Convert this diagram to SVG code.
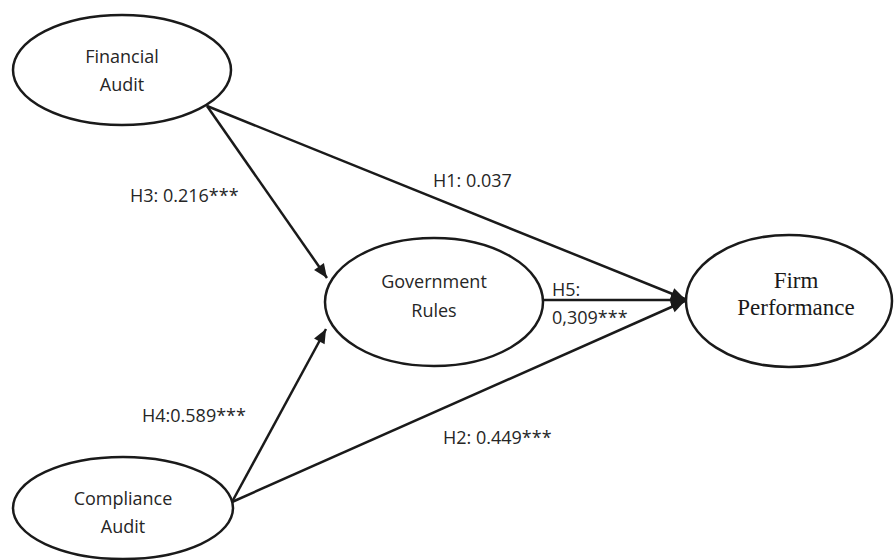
<svg xmlns="http://www.w3.org/2000/svg" width="894" height="560" viewBox="0 0 894 560">
<style>
  .node ellipse { fill: #fff; stroke: #1a1a1a; stroke-width: 2.5; }
  .t { font-family: "Open Sans", "Liberation Sans", sans-serif; font-size: 18px; fill: #262626; }
  .serif { font-family: "Liberation Serif", "Times New Roman", serif; font-size: 23px; fill: #1a1a1a; }
  .edge { stroke: #1a1a1a; stroke-width: 2.5; fill: none; marker-end: url(#arrow); }
</style>
<defs>
  <marker id="arrow" markerUnits="userSpaceOnUse" markerWidth="16" markerHeight="14" refX="15" refY="7" orient="auto">
    <path d="M1,1 L15,7 L1,13 z" fill="#1a1a1a"/>
  </marker>
</defs>
<rect width="894" height="560" fill="#fff"/>
<g id="connectors">
  <line class="edge" x1="207" y1="106" x2="327" y2="278"/>
  <line class="edge" x1="207" y1="106" x2="685" y2="299"/>
  <line class="edge" x1="232" y1="502" x2="326" y2="329"/>
  <line class="edge" x1="232" y1="502" x2="685" y2="301"/>
  <line class="edge" x1="543" y1="300" x2="685" y2="300"/>
</g>
<g id="labels" class="t">
  <text x="130" y="202">H3: 0.216***</text>
  <text x="433" y="187">H1: 0.037</text>
  <text x="552" y="296">H5:</text>
  <text x="552" y="324">0,309***</text>
  <text x="142" y="422">H4:0.589***</text>
  <text x="443" y="444">H2: 0.449***</text>
</g>
<g id="financial-audit" class="node">
  <ellipse cx="122" cy="70" rx="109" ry="55"/>
  <text class="t" x="122" y="63" text-anchor="middle">Financial</text>
  <text class="t" x="122" y="91" text-anchor="middle">Audit</text>
</g>
<g id="government-rules" class="node">
  <ellipse cx="434" cy="302" rx="109" ry="64"/>
  <text class="t" x="434" y="288" text-anchor="middle">Government</text>
  <text class="t" x="434" y="317" text-anchor="middle">Rules</text>
</g>
<g id="firm-performance" class="node">
  <ellipse cx="789" cy="301" rx="103" ry="66"/>
  <text class="serif" x="796" y="288" text-anchor="middle">Firm</text>
  <text class="serif" x="796" y="315" text-anchor="middle">Performance</text>
</g>
<g id="compliance-audit" class="node">
  <ellipse cx="123" cy="508" rx="110" ry="51"/>
  <text class="t" x="123" y="505" text-anchor="middle">Compliance</text>
  <text class="t" x="123" y="533" text-anchor="middle">Audit</text>
</g>
</svg>
